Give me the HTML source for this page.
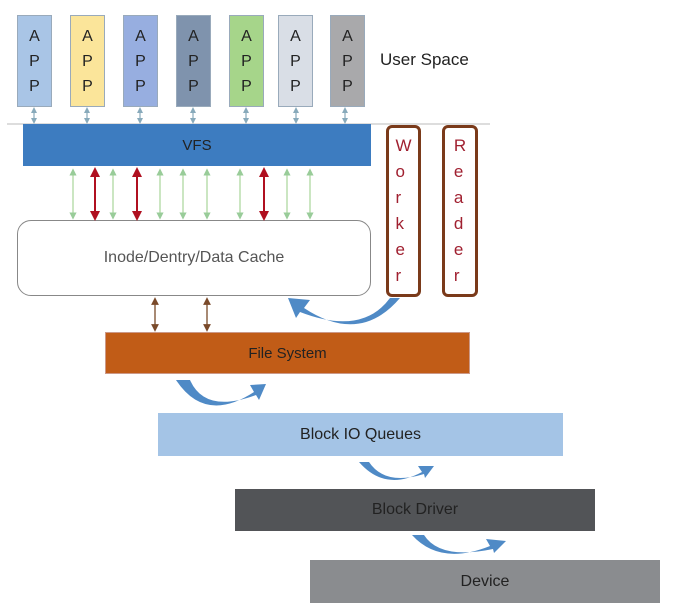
<!DOCTYPE html>
<html><head><style>
body{margin:0;width:679px;height:614px;background:#fff;position:relative;font-family:"Liberation Sans",sans-serif;overflow:hidden}
.b{position:absolute;box-sizing:border-box;display:flex;align-items:center;justify-content:center;font-size:15px;color:#222}
.app{top:15px;width:35px;height:92px;flex-direction:column;font-size:16px;line-height:25px;border:1px solid #9ab}
.v{flex-direction:column;font-size:17px;line-height:26px;color:#a02030;border:3px solid #7a3a1a;border-radius:6px;background:#fff}
</style></head><body>
<div class="b app" style="left:17px;background:#a9c5e6">A<br>P<br>P</div>
<div class="b app" style="left:70px;background:#fbe59a">A<br>P<br>P</div>
<div class="b app" style="left:123px;background:#97aee0">A<br>P<br>P</div>
<div class="b app" style="left:176px;background:#7f93ad">A<br>P<br>P</div>
<div class="b app" style="left:229px;background:#a6d58a">A<br>P<br>P</div>
<div class="b app" style="left:278px;background:#d9dee6">A<br>P<br>P</div>
<div class="b app" style="left:330px;background:#a9a9ab">A<br>P<br>P</div>
<div class="b" style="left:380px;top:50px;font-size:17px">User Space</div>
<div style="position:absolute;left:7px;top:123px;width:483px;height:2px;background:#ddd"></div>
<div class="b" style="left:23px;top:124px;width:348px;height:42px;background:#3d7cc0;font-size:15px">VFS</div>
<div class="b v" style="left:386px;top:125px;width:35px;height:172px">W<br>o<br>r<br>k<br>e<br>r</div>
<div class="b v" style="left:442px;top:125px;width:36px;height:172px">R<br>e<br>a<br>d<br>e<br>r</div>
<div class="b" style="left:17px;top:220px;width:354px;height:76px;border:1px solid #888;border-radius:14px;background:#fff;color:#555;font-size:16px">Inode/Dentry/Data Cache</div>
<div class="b" style="left:105px;top:332px;width:365px;height:42px;background:#c15c17;border:1px solid #c98">File System</div>
<div class="b" style="left:158px;top:413px;width:405px;height:43px;background:#a4c4e6;font-size:16px">Block IO Queues</div>
<div class="b" style="left:235px;top:489px;width:360px;height:42px;background:#525457;font-size:16px">Block Driver</div>
<div class="b" style="left:310px;top:560px;width:350px;height:43px;background:#8a8c8f;font-size:16px">Device</div>
<svg width="679" height="614" style="position:absolute;left:0;top:0">
<defs>
<marker id="g" markerWidth="6" markerHeight="6" refX="3" refY="3" orient="auto-start-reverse"><path d="M0,0L6,3L0,6z" fill="#9c9"/></marker>
<marker id="r" markerWidth="5" markerHeight="5" refX="2.5" refY="2.5" orient="auto-start-reverse"><path d="M0,0L5,2.5L0,5z" fill="#b01020"/></marker>
<marker id="br" markerWidth="6" markerHeight="6" refX="3" refY="3" orient="auto-start-reverse"><path d="M0,0L6,3L0,6z" fill="#7a4a2a"/></marker>
<marker id="bl" markerWidth="5" markerHeight="5" refX="2.5" refY="2.5" orient="auto-start-reverse"><path d="M0,0L5,2.5L0,5z" fill="#8ab"/></marker>
</defs>
<g stroke="#8ab" stroke-width="1.2">
<line x1="34" y1="110" x2="34" y2="121" marker-start="url(#bl)" marker-end="url(#bl)"/>
<line x1="87" y1="110" x2="87" y2="121" marker-start="url(#bl)" marker-end="url(#bl)"/>
<line x1="140" y1="110" x2="140" y2="121" marker-start="url(#bl)" marker-end="url(#bl)"/>
<line x1="193" y1="110" x2="193" y2="121" marker-start="url(#bl)" marker-end="url(#bl)"/>
<line x1="246" y1="110" x2="246" y2="121" marker-start="url(#bl)" marker-end="url(#bl)"/>
<line x1="296" y1="110" x2="296" y2="121" marker-start="url(#bl)" marker-end="url(#bl)"/>
<line x1="345" y1="110" x2="345" y2="121" marker-start="url(#bl)" marker-end="url(#bl)"/>
</g>
<g stroke="#a8d49a" stroke-width="1.2">
<line x1="73" y1="172" x2="73" y2="216" marker-start="url(#g)" marker-end="url(#g)"/>
<line x1="113" y1="172" x2="113" y2="216" marker-start="url(#g)" marker-end="url(#g)"/>
<line x1="160" y1="172" x2="160" y2="216" marker-start="url(#g)" marker-end="url(#g)"/>
<line x1="183" y1="172" x2="183" y2="216" marker-start="url(#g)" marker-end="url(#g)"/>
<line x1="207" y1="172" x2="207" y2="216" marker-start="url(#g)" marker-end="url(#g)"/>
<line x1="240" y1="172" x2="240" y2="216" marker-start="url(#g)" marker-end="url(#g)"/>
<line x1="287" y1="172" x2="287" y2="216" marker-start="url(#g)" marker-end="url(#g)"/>
<line x1="310" y1="172" x2="310" y2="216" marker-start="url(#g)" marker-end="url(#g)"/>
</g>
<g stroke="#b01020" stroke-width="2">
<line x1="95" y1="172" x2="95" y2="216" marker-start="url(#r)" marker-end="url(#r)"/>
<line x1="137" y1="172" x2="137" y2="216" marker-start="url(#r)" marker-end="url(#r)"/>
<line x1="264" y1="172" x2="264" y2="216" marker-start="url(#r)" marker-end="url(#r)"/>
</g>
<g stroke="#7a4a2a" stroke-width="1.3">
<line x1="155" y1="301" x2="155" y2="328" marker-start="url(#br)" marker-end="url(#br)"/>
<line x1="207" y1="301" x2="207" y2="328" marker-start="url(#br)" marker-end="url(#br)"/>
</g>
<g fill="#4f8ac6">
<path d="M400,298 Q360,345 304,308 L310,300 L288,298 L296,318 L300,312 Q362,336 390,298z"/>
<path d="M176,380 Q205,424 254,392 L250,385 L266,384 L259,400 L256,395 Q205,414 190,380z"/>
<path d="M359,462 Q385,492 422,472 L418,466 L434,466 L425,478 L424,474 Q385,486 369,462z"/>
<path d="M412,535 Q440,566 490,546 L486,539 L506,541 L494,553 L493,549 Q440,560 424,535z"/>
</g>
</svg>
</body></html>
